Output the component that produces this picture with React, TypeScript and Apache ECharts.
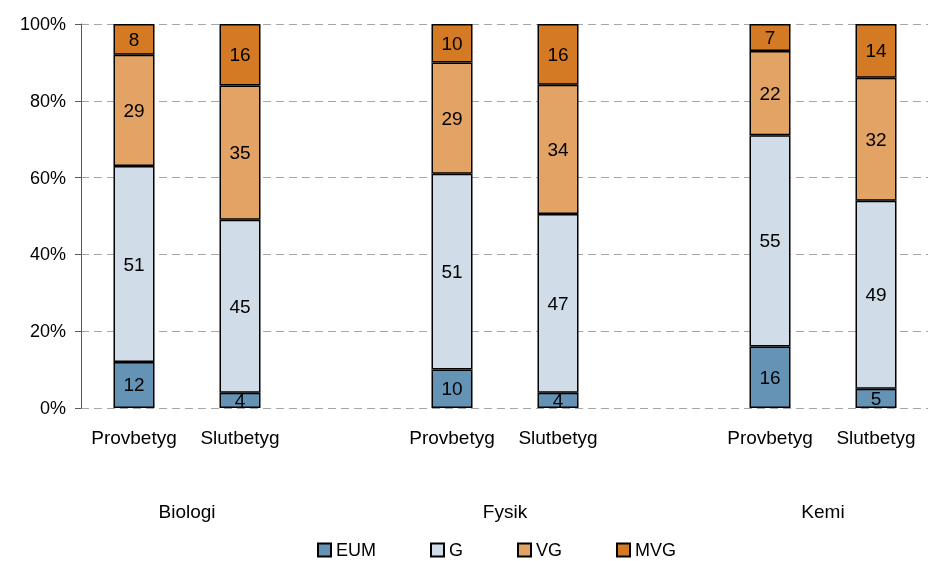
import React, { useEffect, useRef } from "react";
import * as echarts from "echarts";

const categories = ["Provbetyg", "Slutbetyg", "", "Provbetyg", "Slutbetyg", "", "Provbetyg", "Slutbetyg"];
const groupLabels = ["Biologi", "Fysik", "Kemi"];
const groupPositions = [1, 4, 7];
const seriesNames = ["EUM", "G", "VG", "MVG"];
const eum = [12, 4, null, 10, 4, null, 16, 5];
const g = [51, 45, null, 51, 47, null, 55, 49];
const vg = [29, 35, null, 29, 34, null, 22, 32];
const mvg = [8, 16, null, 10, 16, null, 7, 14];
const yTicks = [0, 20, 40, 60, 80, 100];
const colors = ["#6593b6", "#d0dde8", "#e3a365", "#d47a25"];

const FONT = "'Liberation Sans', Arial, sans-serif";

export default function App() {
  const ref = useRef<HTMLDivElement>(null);
  useEffect(() => {
    if (!ref.current) return;
    const chart = echarts.init(ref.current, undefined, { renderer: "svg" });
    const raw = [eum, g, vg, mvg];
    const totals = categories.map((_, i) =>
      raw.reduce((s, arr) => s + (arr[i] == null ? 0 : (arr[i] as number)), 0)
    );
    const series = raw.map((arr, si) => ({
      name: seriesNames[si],
      type: "bar",
      stack: "total",
      barWidth: 41,
      xAxisIndex: 0,
      yAxisIndex: 0,
      itemStyle: { color: colors[si], borderColor: "#000", borderWidth: 1.5 },
      label: {
        show: true,
        position: "inside",
        color: "#000",
        fontSize: 19,
        fontFamily: FONT,
        formatter: (p: any) => String(arr[p.dataIndex]),
      },
      data: arr.map((v, i) => (v == null ? "-" : (v / totals[i]) * 100)),
    }));
    chart.setOption({
      animation: false,
      textStyle: { fontFamily: FONT },
      grid: { left: 81, top: 24, width: 848, height: 384, outerBoundsMode: "none", containLabel: false },
      legend: {
        data: seriesNames,
        left: 317,
        top: 541,
        padding: 0,
        itemWidth: 13,
        itemHeight: 13,
        itemGap: 54,
        icon: "rect",
        textStyle: { fontSize: 18, lineHeight: 16, color: "#000", fontFamily: FONT },
      },
      xAxis: [
        {
          type: "category",
          data: categories,
          axisLine: { show: false },
          axisTick: { show: false },
          axisLabel: { fontSize: 19, color: "#000", margin: 20, interval: 0, fontFamily: FONT },
        },
        {
          type: "value",
          position: "bottom",
          min: 0,
          max: 8,
          interval: 1,
          axisLine: { show: false },
          axisTick: { show: false },
          splitLine: { show: false },
          axisLabel: {
            fontSize: 19,
            color: "#000",
            margin: 94,
            fontFamily: FONT,
            formatter: (v: number) => {
              const idx = groupPositions.indexOf(v);
              return idx >= 0 ? groupLabels[idx] : "";
            },
          },
        },
      ],
      yAxis: {
        type: "value",
        min: yTicks[0],
        max: yTicks[yTicks.length - 1],
        interval: 20,
        axisLine: { show: true, lineStyle: { color: "#595959", width: 1 } },
        axisTick: { show: true, length: 6, lineStyle: { color: "#595959" } },
        splitLine: { show: true, lineStyle: { color: "#a6a6a6", type: [8, 5], width: 1 } },
        axisLabel: { fontSize: 18, color: "#000", margin: 15, formatter: "{value}%", fontFamily: FONT },
      },
      series,
    });
    return () => chart.dispose();
  }, []);
  return <div ref={ref} style={{ position: "fixed", left: 0, top: 0, width: 928, height: 561 }} />;
}
